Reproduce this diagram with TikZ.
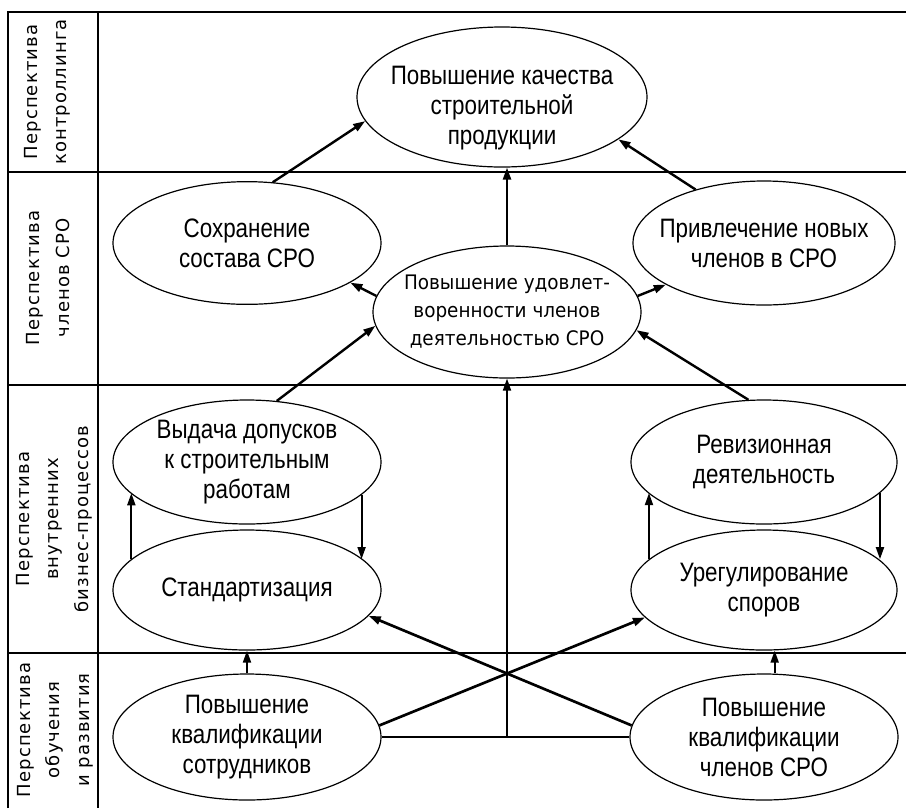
\documentclass[tikz,border=0pt]{standalone}
\usepackage{fontspec}
\setmainfont{Liberation Sans}
\newfontfamily\ovalfont{Liberation Sans}[FakeStretch=0.84]
\newfontfamily\roundfont{DejaVu Sans}[FakeStretch=0.92]
\newfontfamily\lanefont{DejaVu Sans}[LetterSpace=6]
\usetikzlibrary{shapes.geometric, arrows.meta, positioning}

\begin{document}
\begin{tikzpicture}[
    x=0.75pt, y=-0.75pt,
    oval/.style={ellipse, draw, line width=0.9pt, inner xsep=-60pt, inner ysep=-30pt, minimum width=201pt, minimum height=92pt, align=center, font=\ovalfont\fontsize{20}{22.5}\selectfont},
    lane/.style={rotate=90, align=center, font=\lanefont\fontsize{13.5}{22}\selectfont},
    grid/.style={line width=1.1pt},
    arr/.style={-{Triangle[length=9pt,width=6pt]}, line width=1.8pt},
    thinarr/.style={-{Triangle[length=9pt,width=6pt]}, line width=1.4pt}
]
\useasboundingbox (0,0) rectangle (906,808);

% table
\draw[grid] (8,808) -- (8,12) -- (906,12);
\draw[grid] (98,12) -- (98,808);
\foreach \y in {172,385,653}
    \draw[grid] (8,\y) -- (906,\y);

\node[lane] (l1) at (47,92) {Перспектива\\контроллинга};
\node[lane] (l2) at (48,278) {Перспектива\\членов СРО};
\node[lane] (l3) at (54,519) {Перспектива\\внутренних\\бизнес-процессов};
\node[lane] (l4) at (55,730) {Перспектива\\обучения\\и развития};

% goals
\node[oval, minimum width=217.5pt, minimum height=105pt] (e1) at (502,97) {};
\node[align=center, font=\ovalfont\fontsize{20}{22.5}\selectfont] (t1) at (502,108) {Повышение качества\\строительной\\продукции};
\node[oval] (e2) at (247,243) {Сохранение\\состава СРО};
\node[oval, minimum width=196.5pt, minimum height=93pt] (e3) at (764,243) {Привлечение новых\\членов в СРО};
\node[oval, minimum height=99pt, font=\roundfont\fontsize{15}{21}\selectfont] (e4) at (507,312) {Повышение удовлет-\\воренности членов\\деятельностью СРО};
\node[oval, minimum height=93pt] (e5) at (247,462) {Выдача допусков\\к строительным\\работам};
\node[oval, minimum width=199.5pt, minimum height=93pt] (e6) at (764,462) {Ревизионная\\деятельность};
\node[oval, minimum height=90pt] (e7) at (247,590) {Стандартизация};
\node[oval, minimum width=199.5pt, minimum height=90pt] (e8) at (764,590) {Урегулирование\\споров};
\node[oval, minimum height=94.5pt] (e9) at (247,737) {Повышение\\квалификации\\сотрудников};
\node[oval, minimum height=94.5pt] (e10) at (764,737) {Повышение\\квалификации\\членов СРО};

% links
\draw[arr] (e2.67) -- (e1.190);
\draw[arr] (e4.north) -- (e1.south -| e4.north);
\draw[arr] (e3.142) -- (e1.340);
\draw[arr] (e4.173) -- (e2.339);
\draw[arr] (e4.7) -- (e3.203);
\draw[arr] (e5.64) -- (e4.186);
\draw[arr] (e6.104) -- (e4.352);

\draw[thinarr] (e7.165) -- (e7.165 |- e5.195);
\draw[thinarr] (e5.344) -- (e5.344 |- e7.15);
\draw[thinarr] (e8.165) -- (e8.165 |- e6.195);
\draw[thinarr] (e6.345) -- (e6.345 |- e8.15);

\draw[line width=0.9pt] (e9.east) -- (e10.west);
\draw[arr, line width=1.3pt] (e4.south |- e9.east) -- (e4.south);
\draw[arr, line width=2pt] (e9.5) -- (e8.193);
\draw[arr, line width=2pt] (e10.175) -- (e7.348);
\draw[thinarr] (e9.north) -- (e7.south);
\draw[thinarr] ([xshift=8pt]e10.north) -- ([xshift=8pt]e8.south);
\end{tikzpicture}
\end{document}
